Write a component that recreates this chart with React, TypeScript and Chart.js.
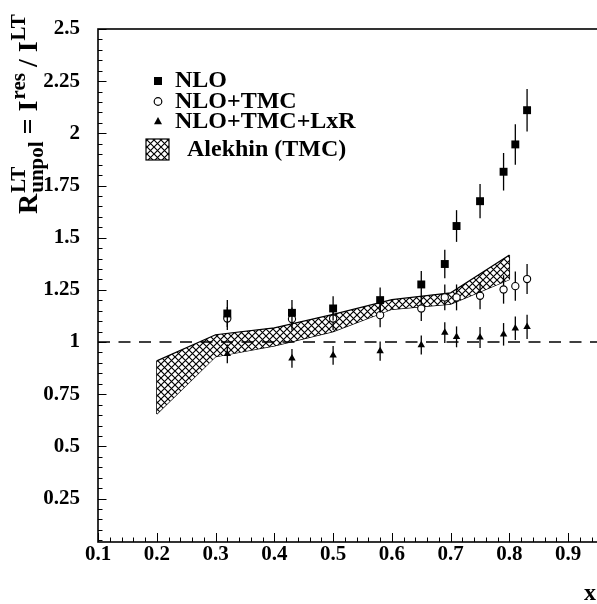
import React, { useEffect, useRef } from 'react';
import { Chart, registerables } from 'chart.js';

Chart.register(...registerables);

// ---------------- data ----------------
const xValues = [0.32, 0.43, 0.5, 0.58, 0.65, 0.69, 0.71, 0.75, 0.79, 0.81, 0.83];
const nloValues = [1.137, 1.14, 1.161, 1.201, 1.276, 1.374, 1.556, 1.675, 1.816, 1.947, 2.111];
const nloErrors = [0.065, 0.062, 0.058, 0.06, 0.065, 0.068, 0.076, 0.082, 0.09, 0.097, 0.102];
const tmcValues = [1.113, 1.11, 1.113, 1.129, 1.161, 1.214, 1.214, 1.222, 1.252, 1.268, 1.302];
const tmcErrors = [0.055, 0.055, 0.055, 0.058, 0.06, 0.062, 0.062, 0.065, 0.068, 0.07, 0.072];
const lxrValues = [0.943, 0.922, 0.936, 0.957, 0.986, 1.045, 1.025, 1.022, 1.037, 1.066, 1.073];
const lxrErrors = [0.045, 0.045, 0.045, 0.046, 0.046, 0.05, 0.05, 0.05, 0.054, 0.056, 0.058];

const bandX = [0.2, 0.3, 0.4, 0.5, 0.6, 0.7, 0.8];
const bandUpper = [0.91, 1.035, 1.068, 1.133, 1.203, 1.236, 1.417];
const bandLower = [0.655, 0.93, 0.982, 1.05, 1.157, 1.182, 1.3];

const refLineX = [0.1, 1.0];
const refLineY = 1;

const xTicks = [0.1, 0.2, 0.3, 0.4, 0.5, 0.6, 0.7, 0.8, 0.9];
const xTickLabels = ['0.1', '0.2', '0.3', '0.4', '0.5', '0.6', '0.7', '0.8', '0.9'];
const yTicks = [0.25, 0.5, 0.75, 1, 1.25, 1.5, 1.75, 2, 2.25, 2.5];
const yTickLabels = ['0.25', '0.5', '0.75', '1', '1.25', '1.5', '1.75', '2', '2.25', '2.5'];

const legendLabels = ['NLO', 'NLO+TMC', 'NLO+TMC+LxR', 'Alekhin (TMC)'];
const xTitle = 'x';

const X_MIN = 0.1;
const X_MAX = 1.0;
const Y_MIN = 0.042;
const Y_MAX = 2.5;

// ---------------- styling ----------------
const FONT = '"Liberation Serif", "Times New Roman", serif';
const W = 660;
const H = 604;

function makePattern(): CanvasPattern | string {
  const c = document.createElement('canvas');
  const s = 7;
  c.width = s;
  c.height = s;
  const g = c.getContext('2d');
  if (!g) return '#888';
  g.fillStyle = '#fff';
  g.fillRect(0, 0, s, s);
  g.strokeStyle = '#000';
  g.lineWidth = 1.15;
  g.beginPath();
  g.moveTo(-1, -1);
  g.lineTo(s + 1, s + 1);
  g.moveTo(s + 1, -1);
  g.lineTo(-1, s + 1);
  g.stroke();
  const p = g.createPattern(c, 'repeat');
  return p || '#888';
}

const pts = (xs: number[], ys: number[]) => xs.map((x, i) => ({ x, y: ys[i] }));

const errorBarPlugin = {
  id: 'errorBars',
  beforeDatasetDraw(chart: any, args: any) {
    const ds = chart.data.datasets[args.index];
    const errs: number[] | undefined = ds.errors;
    if (!errs) return;
    const { ctx } = chart;
    const xs = chart.scales.x;
    const ys = chart.scales.y;
    ctx.save();
    ctx.strokeStyle = '#000';
    ctx.lineWidth = 1.3;
    ds.data.forEach((p: any, i: number) => {
      const px = xs.getPixelForValue(p.x);
      ctx.beginPath();
      ctx.moveTo(px, ys.getPixelForValue(p.y - errs[i]));
      ctx.lineTo(px, ys.getPixelForValue(p.y + errs[i]));
      ctx.stroke();
    });
    ctx.restore();
  },
};

function axisMinorValues(majors: number[], lo: number, hi: number, sub: number) {
  const step = majors[1] - majors[0];
  const minor = step / sub;
  const out: { v: number; major: boolean }[] = [];
  const kStart = Math.ceil((lo - majors[0]) / minor - 1e-6);
  for (let k = kStart; ; k++) {
    const v = majors[0] + k * minor;
    if (v > hi + 1e-9) break;
    if (v < lo - 1e-9) continue;
    out.push({ v, major: ((k % sub) + sub) % sub === 0 });
  }
  return out;
}

const framePlugin = {
  id: 'frame',
  afterDraw(chart: any) {
    const { ctx, chartArea: a } = chart;
    const xs = chart.scales.x;
    const ys = chart.scales.y;
    ctx.save();
    ctx.strokeStyle = '#000';
    ctx.lineWidth = 1;
    // y ticks (inward)
    const yv = ys.ticks.map((t: any) => t.value);
    axisMinorValues(yv, Y_MIN, Y_MAX, 5).forEach(({ v, major }) => {
      const py = Math.round(ys.getPixelForValue(v)) + 0.5;
      ctx.beginPath();
      ctx.moveTo(a.left, py);
      ctx.lineTo(a.left + (major ? 8.5 : 4.5), py);
      ctx.stroke();
    });
    const xv = xs.ticks.map((t: any) => t.value);
    axisMinorValues(xv, X_MIN, X_MAX, 5).forEach(({ v, major }) => {
      const px = Math.round(xs.getPixelForValue(v)) + 0.5;
      ctx.beginPath();
      ctx.moveTo(px, a.bottom);
      ctx.lineTo(px, a.bottom - (major ? 9 : 4.5));
      ctx.stroke();
    });
    // frame
    ctx.lineWidth = 1.6;
    ctx.strokeRect(a.left, a.top, a.right - a.left, a.bottom - a.top);

    // x title
    ctx.fillStyle = '#000';
    ctx.font = `bold 24px ${FONT}`;
    ctx.textAlign = 'center';
    ctx.textBaseline = 'alphabetic';
    ctx.fillText(xTitle, 590, 600);

    // y title with super/subscripts
    const big = `bold 28px ${FONT}`;
    const small = `bold 21px ${FONT}`;
    ctx.translate(37, 214);
    ctx.rotate(-Math.PI / 2);
    ctx.textAlign = 'left';
    let x = 0;
    const put = (t: string, font: string, dy: number) => {
      ctx.font = font;
      ctx.fillText(t, x, dy);
      return ctx.measureText(t).width;
    };
    x += put('R', big, 0);
    const x0 = x + 1;
    x = x0;
    const w1 = put('LT', small, -12);
    x = x0;
    const w2 = put('unpol', small, 6);
    x = x0 + Math.max(w1, w2) + 7;
    x += put('=', big, 0) + 7;
    x += put('I', big, 0) + 1;
    x += put('res', small, -12) + 6;
    x += put('/', big, 0) + 7;
    x += put('I', big, 0) + 1;
    x += put('LT', small, -12);
    ctx.restore();
  },
};

const legendPlugin = {
  id: 'customLegend',
  afterDraw(chart: any) {
    const { ctx } = chart;
    const ds = chart.data.datasets;
    ctx.save();
    const mx = 158;
    const rows = [81, 101.5, 121.5];
    // square
    ctx.fillStyle = ds[0].backgroundColor;
    ctx.fillRect(mx - 4, rows[0] - 4, 8, 8);
    // circle
    ctx.beginPath();
    ctx.arc(mx, rows[1], 3.8, 0, Math.PI * 2);
    ctx.fillStyle = ds[1].backgroundColor;
    ctx.fill();
    ctx.strokeStyle = ds[1].borderColor;
    ctx.lineWidth = 1.2;
    ctx.stroke();
    // triangle
    ctx.beginPath();
    ctx.moveTo(mx, rows[2] - 4.5);
    ctx.lineTo(mx + 4, rows[2] + 2.8);
    ctx.lineTo(mx - 4, rows[2] + 2.8);
    ctx.closePath();
    ctx.fillStyle = ds[2].backgroundColor;
    ctx.fill();
    // hatched box
    ctx.fillStyle = ds[4].backgroundColor;
    ctx.fillRect(146, 139, 23, 21);
    ctx.strokeStyle = '#000';
    ctx.lineWidth = 1.2;
    ctx.strokeRect(146, 139, 23, 21);

    ctx.fillStyle = '#000';
    ctx.font = `bold 24px ${FONT}`;
    ctx.textBaseline = 'middle';
    ctx.textAlign = 'left';
    ctx.fillText(legendLabels[0], 175, rows[0]);
    ctx.fillText(legendLabels[1], 175, rows[1]);
    ctx.fillText(legendLabels[2], 175, rows[2]);
    ctx.fillText(legendLabels[3], 187, 149.5);
    ctx.restore();
  },
};

export default function App() {
  const ref = useRef<HTMLCanvasElement | null>(null);

  useEffect(() => {
    const canvas = ref.current;
    if (!canvas) return;
    const pattern = makePattern();
    const tickFont = { family: FONT, size: 21, weight: 'bold' as const };

    const chart = new Chart(canvas, {
      type: 'line',
      data: {
        datasets: [
          {
            label: legendLabels[0],
            data: pts(xValues, nloValues),
            errors: nloErrors,
            showLine: false,
            pointStyle: 'rect',
            pointRadius: 5.6,
            backgroundColor: '#000',
            borderColor: '#000',
            borderWidth: 0,
            order: 1,
          } as any,
          {
            label: legendLabels[1],
            data: pts(xValues, tmcValues),
            errors: tmcErrors,
            showLine: false,
            pointStyle: 'circle',
            pointRadius: 3.6,
            backgroundColor: '#fff',
            borderColor: '#000',
            borderWidth: 1.1,
            order: 2,
          } as any,
          {
            label: legendLabels[2],
            data: pts(xValues, lxrValues),
            errors: lxrErrors,
            showLine: false,
            pointStyle: 'triangle',
            pointRadius: 4.3,
            backgroundColor: '#000',
            borderColor: '#000',
            borderWidth: 0,
            order: 3,
          } as any,
          {
            label: 'ref',
            data: refLineX.map((x) => ({ x, y: refLineY })),
            showLine: true,
            borderColor: '#000',
            borderWidth: 1.5,
            borderDash: [12, 8.5],
            pointRadius: 0,
            fill: false,
            order: 4,
          },
          {
            label: legendLabels[3],
            data: pts(bandX, bandUpper),
            showLine: true,
            borderColor: '#000',
            borderWidth: 1.2,
            backgroundColor: pattern as any,
            pointRadius: 0,
            tension: 0,
            fill: '+1',
            order: 5,
          },
          {
            label: 'band lower',
            data: pts(bandX, bandLower),
            showLine: true,
            borderColor: '#000',
            borderWidth: 1.2,
            pointRadius: 0,
            tension: 0,
            fill: false,
            order: 6,
          },
          {
            label: 'band left edge',
            data: [
              { x: bandX[0], y: bandLower[0] },
              { x: bandX[0], y: bandUpper[0] },
            ],
            showLine: true,
            borderColor: '#000',
            borderWidth: 1.2,
            pointRadius: 0,
            fill: false,
            order: 7,
          },
          {
            label: 'band right edge',
            data: [
              { x: bandX[bandX.length - 1], y: bandLower[bandLower.length - 1] },
              { x: bandX[bandX.length - 1], y: bandUpper[bandUpper.length - 1] },
            ],
            showLine: true,
            borderColor: '#000',
            borderWidth: 1.2,
            pointRadius: 0,
            fill: false,
            order: 8,
          },
        ],
      },
      options: {
        responsive: false,
        animation: false,
        events: [],
        layout: { padding: { left: 0, top: 29, right: W - 627, bottom: 0 } },
        plugins: {
          legend: { display: false },
          tooltip: { enabled: false },
          title: { display: false },
        },
        scales: {
          x: {
            type: 'linear',
            min: X_MIN,
            max: X_MAX,
            bounds: 'data',
            grid: { display: false, drawTicks: false },
            border: { display: false },
            afterBuildTicks: (s: any) => {
              s.ticks = xTicks.map((v) => ({ value: v }));
            },
            afterFit: (s: any) => {
              s.height = H - 542;
              s.paddingLeft = 0;
              s.paddingRight = 0;
            },
            ticks: {
              autoSkip: false,
              maxRotation: 0,
              color: '#000',
              font: tickFont,
              padding: 0,
              callback: (_v: any, i: number) => xTickLabels[i],
            },
          },
          y: {
            type: 'linear',
            min: Y_MIN,
            max: Y_MAX,
            bounds: 'data',
            grid: { display: false, drawTicks: false },
            border: { display: false },
            afterBuildTicks: (s: any) => {
              s.ticks = yTicks.map((v) => ({ value: v }));
            },
            afterFit: (s: any) => {
              s.width = 98;
              s.paddingTop = 0;
              s.paddingBottom = 0;
            },
            ticks: {
              autoSkip: false,
              color: '#000',
              font: tickFont,
              padding: 18,
              callback: (_v: any, i: number) => yTickLabels[i],
            },
          },
        },
      },
      plugins: [errorBarPlugin, framePlugin, legendPlugin],
    } as any);

    return () => chart.destroy();
  }, []);

  return (
    <div
      style={{
        position: 'absolute',
        left: 0,
        top: 0,
        width: 597,
        height: 604,
        overflow: 'hidden',
        background: '#fff',
      }}
    >
      <canvas ref={ref} width={W} height={H} style={{ display: 'block', width: W, height: H }} />
    </div>
  );
}
